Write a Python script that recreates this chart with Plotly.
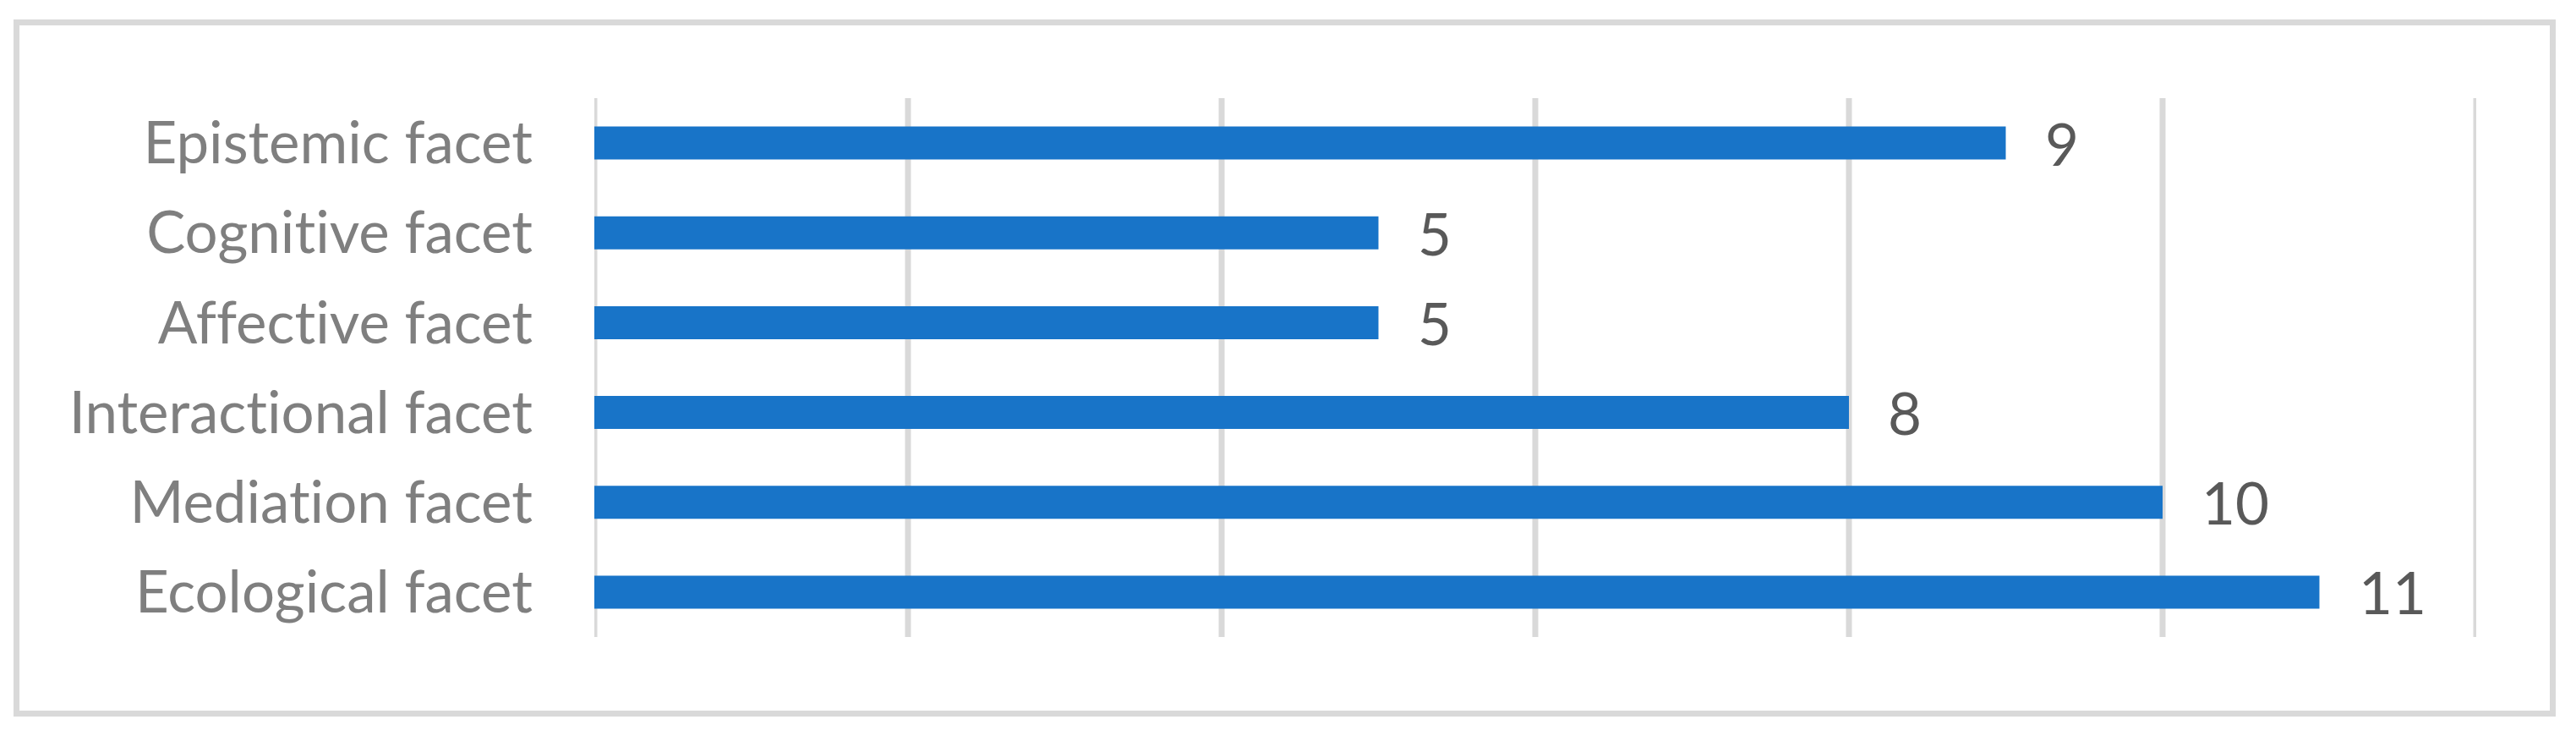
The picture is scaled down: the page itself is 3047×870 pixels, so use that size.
import plotly.graph_objects as go

categories = ["Epistemic facet", "Cognitive facet", "Affective facet",
              "Interactional facet", "Mediation facet", "Ecological facet"]
values = [9, 5, 5, 8, 10, 11]
x_ticks = [0, 2, 4, 6, 8, 10, 12]

# page body has an 8px margin, so the figure is sized to fit inside it
OFF = 8
W, H = 3047 - 2 * OFF, 870 - 2 * OFF
L, T = 703 - OFF, 116 - OFF
plot_w, plot_h = 2226, 637
R = W - L - plot_w
B = H - T - plot_h

def px_x(p):
    return (p - OFF - L) / plot_w

def px_y(p):
    return 1 - (p - OFF - T) / plot_h

FONT = "Lato, Calibri, Carlito, 'Open Sans', sans-serif"
NOLIG = '<span style="font-variant-ligatures:none;font-feature-settings:\'liga\' 0">{}</span>'

fig = go.Figure()

# vertical gridlines (incl. the ones at the axis ends)
for t in x_ticks:
    fig.add_shape(
        type="line", xref="x", yref="paper", x0=t, x1=t, y0=0, y1=1,
        line=dict(color="#D9D9D9", width=7), layer="below",
    )

fig.add_trace(go.Bar(
    x=values, y=categories, orientation="h",
    marker=dict(color="#1874C8", line=dict(width=0)),
    hoverinfo="x+y",
))

for c, v in zip(categories, values):
    fig.add_annotation(
        x=v, y=c, xref="x", yref="y", text=str(v), showarrow=False,
        xanchor="left", yanchor="middle", xshift=44, yshift=0,
        font=dict(family=FONT, size=69, color="#595959"),
    )

# outer chart-area frame
fig.add_shape(
    type="rect", xref="paper", yref="paper",
    x0=px_x(19.5), x1=px_x(3019.5), y0=px_y(843.5), y1=px_y(26.5),
    line=dict(color="#D9D9D9", width=7), fillcolor="rgba(0,0,0,0)", layer="below",
)

fig.update_layout(
    width=W, height=H,
    margin=dict(l=L, r=R, t=T, b=B, pad=0),
    paper_bgcolor="white", plot_bgcolor="white",
    bargap=0.633,
    showlegend=False,
    font=dict(family=FONT, color="#7F7F7F"),
    xaxis=dict(
        range=[0, 12], tickvals=x_ticks, showticklabels=False,
        showgrid=False, zeroline=False, showline=False, ticks="", fixedrange=True,
    ),
    yaxis=dict(
        categoryorder="array", categoryarray=categories, autorange="reversed",
        tickmode="array", tickvals=categories,
        ticktext=[NOLIG.format(c) for c in categories],
        showgrid=False, zeroline=False, showline=False, ticks="",
        tickfont=dict(family=FONT, size=69, color="#7F7F7F"),
        ticklabelstandoff=72,
    ),
)

fig.write_html("out.html")
